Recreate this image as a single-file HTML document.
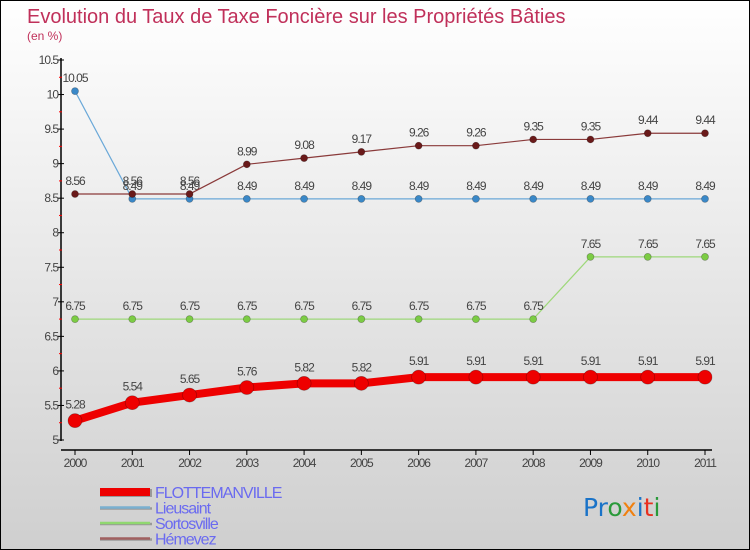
<!DOCTYPE html>
<html><head><meta charset="utf-8"><style>
body{margin:0}
svg{display:block;font-family:"Liberation Sans",sans-serif}
</style></head><body>
<svg width="750" height="550">
<defs><linearGradient id="bg" x1="0" y1="0" x2="0" y2="1"><stop offset="0" stop-color="#ffffff"/><stop offset="1" stop-color="#cfcfcf"/></linearGradient></defs>
<rect x="0.5" y="0.5" width="749" height="549" fill="url(#bg)" stroke="#000"/>
<text x="27" y="23" font-size="20" fill="#c0305a">Evolution du Taux de Taxe Foncière sur les Propriétés Bâties</text>
<text x="27" y="40" font-size="12" fill="#c0305a">(en %)</text>
<g id="axes"></g><g id="series"></g><g id="legend"></g>
<text x="583" y="516" font-size="25" font-family="DejaVu Sans,sans-serif"><tspan fill="#1a73c8">Pr</tspan><tspan fill="#2a9a3a">o</tspan><tspan fill="#f08010">x</tspan><tspan fill="#1a73c8">i</tspan><tspan fill="#e83020">t</tspan><tspan fill="#2a9a3a">i</tspan></text>
</svg>
<script>
const years=[2000,2001,2002,2003,2004,2005,2006,2007,2008,2009,2010,2011];
const yTicks=[5,5.5,6,6.5,7,7.5,8,8.5,9,9.5,10,10.5];
const flotte=[5.28,5.54,5.65,5.76,5.82,5.82,5.91,5.91,5.91,5.91,5.91,5.91];
const lieusaint=[10.05,8.49,8.49,8.49,8.49,8.49,8.49,8.49,8.49,8.49,8.49,8.49];
const sortosville=[6.75,6.75,6.75,6.75,6.75,6.75,6.75,6.75,6.75,7.65,7.65,7.65];
const hemevez=[8.56,8.56,8.56,8.99,9.08,9.17,9.26,9.26,9.35,9.35,9.44,9.44];
const NS='http://www.w3.org/2000/svg';
const X=i=>75+i*(630/11);
const Y=v=>440-(v-5)*(380/5.5);
function mk(t,a,p){const e=document.createElementNS(NS,t);for(const k in a)e.setAttribute(k,a[k]);p.appendChild(e);return e;}
const ax=document.getElementById('axes');
const ya=mk('line',{x1:61,y1:58,x2:61,y2:441,stroke:'#000','stroke-width':1.5},ax);


const xa=mk('line',{x1:61,y1:450,x2:712,y2:450,stroke:'#000','stroke-width':1.5},ax);


yTicks.forEach((v,i)=>{
 mk('line',{x1:58,y1:Y(v),x2:64,y2:Y(v),stroke:'#000'},ax);
 if(i<yTicks.length-1) mk('line',{x1:59,y1:Y(v+0.25),x2:62,y2:Y(v+0.25),stroke:'#f00'},ax);
 const t=mk('text',{x:58,y:Y(v)+4,'text-anchor':'end','font-size':12,fill:'#444','letter-spacing':-1},ax);
 t.textContent=String(v);
 
 
});
years.forEach((y,i)=>{
 mk('line',{x1:X(i),y1:450,x2:X(i),y2:455,stroke:'#000'},ax);
 const t=mk('text',{x:X(i),y:467,'text-anchor':'middle','font-size':12,fill:'#444','letter-spacing':-1},ax);
 t.textContent=y;
 
 
});
const sg=document.getElementById('series');
function series(data,color,dot,w,r,name){
 const g=mk('g',{},sg);
 
 
 mk('polyline',{points:data.map((v,i)=>X(i)+','+Y(v)).join(' '),fill:'none',stroke:color,'stroke-width':w,'stroke-linejoin':'round'},g);
 data.forEach((v,i)=>{
  const c=mk('circle',{cx:X(i),cy:Y(v),r:r,fill:dot,stroke:'rgba(0,0,0,0.3)','stroke-width':0.7},g);
  
  
  const t=mk('text',{x:X(i),y:Y(v)-9-(r>4?3:0),'text-anchor':'middle','font-size':12,fill:'#444','letter-spacing':-1},g);
  t.textContent=String(v);
  
  
 });
}
series(sortosville,'#9ed87a','#7ccc44',1.2,3.5,'sortosville-series');
series(lieusaint,'#6aa8d8','#3a88c8',1.2,3.5,'lieusaint-series');
series(hemevez,'#8a3a3a','#6a1a1a',1.2,3.5,'hemevez-series');
series(flotte,'#ee0000','#ee0000',8,7,'flottemanville-series');
const lg=document.getElementById('legend');
const items=[['FLOTTEMANVILLE','#ee0000',8],['Lieusaint','#7ab0d0',2.5],['Sortosville','#90d870',2.5],['Hémevez','#a06060',2.5]];
items.forEach((it,i)=>{
 const y=492+i*15.5;
 const g=mk('g',{},lg);
 
 
 mk('line',{x1:100,y1:y+1,x2:152,y2:y+1,stroke:'#999','stroke-width':it[2]},g);
 mk('line',{x1:100,y1:y,x2:150,y2:y,stroke:it[1],'stroke-width':it[2]},g);
 const t=mk('text',{x:155,y:y+6,'font-size':16,fill:'#6a6af0','letter-spacing':-1},g);
 t.textContent=it[0];
});
</script>
</body></html>
